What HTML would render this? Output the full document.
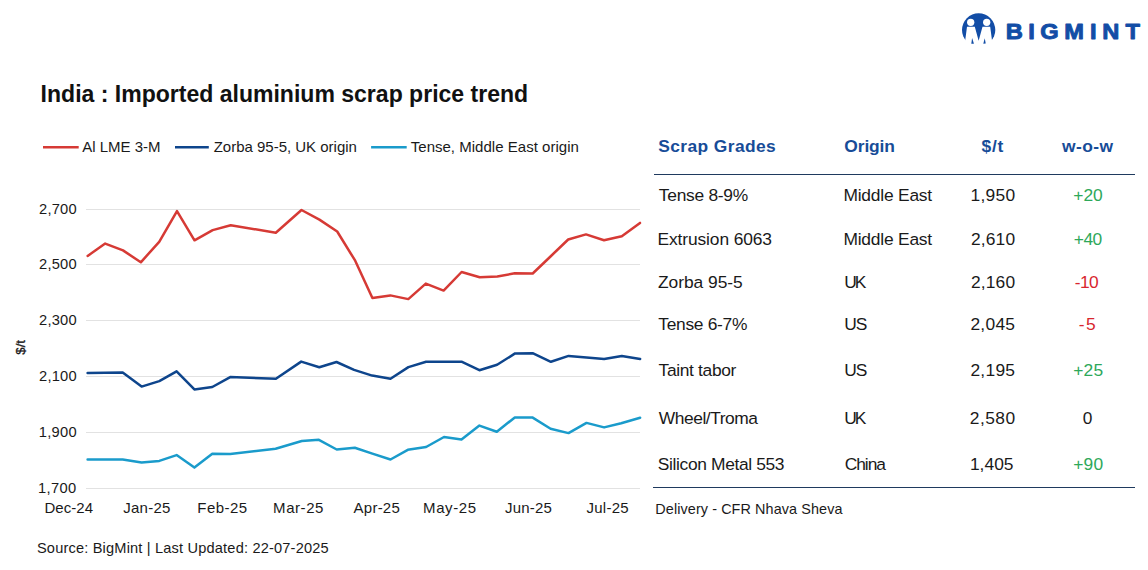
<!DOCTYPE html>
<html><head><meta charset="utf-8"><title>India : Imported aluminium scrap price trend</title>
<style>
html,body{margin:0;padding:0;background:#fff;}
body{width:1148px;height:570px;overflow:hidden;position:relative;}
svg{position:absolute;left:0;top:0;display:block;}
text{font-family:"Liberation Sans",Arial,sans-serif;}
</style></head>
<body>
<svg width="1148" height="570" viewBox="0 0 1148 570">
<g id="logo">
  <circle cx="978.65" cy="30" r="16.65" fill="#124DA6"/>
  <circle cx="970.7" cy="22.3" r="3.65" fill="#fff"/>
  <circle cx="986.7" cy="22.3" r="3.65" fill="#fff"/>
  <polygon points="967,26.8 974.8,26.8 978.65,40.7 982.5,26.8 990.2,26.8 993,48 964.2,48" fill="#fff"/>
  <polygon points="972.1,37.9 973.9,43.7 971.3,43.8" fill="#124DA6"/>
  <polygon points="984.7,38.3 985.7,43.4 983.3,43.8" fill="#124DA6"/>
  <text transform="scale(1.1,1)" x="914.32 934.79 945.77 967.55 991.01 1002.01 1023.29" y="39.25" font-size="21.5" font-weight="bold" fill="#124DA6" stroke="#124DA6" stroke-width="0.9" stroke-linejoin="round">BIGMINT</text>
</g>

<line x1="43" y1="147.3" x2="78.7" y2="147.3" stroke="#D63A35" stroke-width="2.6"/>
<line x1="175" y1="147.3" x2="208.8" y2="147.3" stroke="#0E458C" stroke-width="2.6"/>
<line x1="371.1" y1="147.3" x2="406.7" y2="147.3" stroke="#1A9BCB" stroke-width="2.6"/>
<g stroke="#E2E2E2" stroke-width="1">
  <line x1="86" y1="209.5" x2="640" y2="209.5"/>
  <line x1="86" y1="264.5" x2="640" y2="264.5"/>
  <line x1="86" y1="320.5" x2="640" y2="320.5"/>
  <line x1="86" y1="376.5" x2="640" y2="376.5"/>
  <line x1="86" y1="432.5" x2="640" y2="432.5"/>
  <line x1="86" y1="488.5" x2="640" y2="488.5"/>
</g>
<text transform="translate(24.5,347.3) rotate(-90)" font-size="13.2" fill="#1a1a1a" stroke="#1a1a1a" stroke-width="0.3" text-anchor="middle">$/t</text>
<g fill="none" stroke-width="2.5" stroke-linejoin="round" stroke-linecap="round">
<polyline stroke="#D63A35" points="87.6,255.9 105.2,243.6 123,250.4 140.8,262.3 159.2,241.8 177,211.1 194.5,240.3 212.7,230.1 230.7,225.2 275.8,232.7 301.5,210 319.4,219.6 337.2,231.5 355.2,260.7 372.4,298.1 390.3,295.4 408.3,299.1 425.8,283.6 443.6,290.6 461.6,272 479.7,277.3 497.3,276.4 514.8,273.3 532.7,273.5 550.5,256.5 568.2,239.5 586,234.4 604,240.2 621.8,236.3 640,222.9"/>
<polyline stroke="#0E458C" points="87.6,372.9 105.2,372.8 122.7,372.6 141.6,386.6 159.3,381.1 176.6,371.3 194.4,389.4 212.3,387 230.2,377.1 275.9,378.7 301.2,361.6 319.3,367.3 336.5,362 354.1,369.9 372.2,375.6 390.5,378.8 408.4,367.1 426.1,361.7 443.6,361.7 461.5,361.7 479.4,370.2 497.1,364.8 515.1,353.4 532.6,353.2 550.9,361.8 568.6,355.9 586.5,357.4 604.1,359 621.8,355.9 640.1,359"/>
<polyline stroke="#1A9BCB" points="87.6,459.6 105.2,459.6 122.7,459.4 141.6,462.4 159.3,460.9 176.6,455.1 194.4,467.6 212.3,453.7 230.2,453.9 275.6,448.7 301.8,441 318.9,439.8 336.7,449.5 354.8,447.7 372.4,453.6 390.5,459.5 407.8,449.8 426.1,447 444,437 461.5,439.6 479.4,425.6 496.8,431.7 514.8,417.4 532.3,417.4 550.6,428.7 568.5,433.1 586.5,422.9 604.1,427.4 621.2,423.2 640.1,417.7"/>
</g>
<line x1="654" y1="174.5" x2="1135" y2="174.5" stroke="#1F3A5E" stroke-width="1.2"/>
<line x1="653" y1="487.5" x2="1135" y2="487.5" stroke="#1F3A5E" stroke-width="1.2"/>

<text x="40.60" y="101.70" font-size="24.4" font-weight="bold" fill="#111111" textLength="487.53" lengthAdjust="spacingAndGlyphs">India : Imported aluminium scrap price trend</text>
<text x="82.30" y="152.00" font-size="15" fill="#1a1a1a" textLength="78.11">Al LME 3-M</text>
<text x="213.70" y="151.90" font-size="15" fill="#1a1a1a" textLength="143.21">Zorba 95-5, UK origin</text>
<text x="410.75" y="151.90" font-size="15" fill="#1a1a1a" textLength="168.09">Tense, Middle East origin</text>
<text x="39.05" y="213.80" font-size="14.7" fill="#1a1a1a" textLength="37.52">2,700</text>
<text x="39.05" y="269.00" font-size="14.7" fill="#1a1a1a" textLength="37.52">2,500</text>
<text x="39.05" y="324.90" font-size="14.7" fill="#1a1a1a" textLength="37.52">2,300</text>
<text x="39.05" y="380.80" font-size="14.7" fill="#1a1a1a" textLength="37.52">2,100</text>
<text x="38.80" y="436.90" font-size="14.7" fill="#1a1a1a" textLength="37.77">1,900</text>
<text x="38.10" y="492.90" font-size="14.7" fill="#1a1a1a" textLength="38.18">1,700</text>
<text x="44.45" y="512.70" font-size="15" fill="#1a1a1a" textLength="48.61">Dec-24</text>
<text x="123.25" y="512.70" font-size="15" fill="#1a1a1a" textLength="47.06">Jan-25</text>
<text x="197.25" y="512.70" font-size="15" fill="#1a1a1a" textLength="49.92">Feb-25</text>
<text x="273.05" y="512.70" font-size="15" fill="#1a1a1a" textLength="50.41">Mar-25</text>
<text x="353.60" y="512.70" font-size="15" fill="#1a1a1a" textLength="46.17">Apr-25</text>
<text x="423.05" y="512.70" font-size="15" fill="#1a1a1a" textLength="52.92">May-25</text>
<text x="505.05" y="512.70" font-size="15" fill="#1a1a1a" textLength="46.87">Jun-25</text>
<text x="586.45" y="512.70" font-size="15" fill="#1a1a1a" textLength="42.20">Jul-25</text>
<text x="36.95" y="552.50" font-size="14.6" fill="#1a1a1a" textLength="291.70">Source: BigMint | Last Updated: 22-07-2025</text>
<text x="658.30" y="151.60" font-size="17.4" font-weight="bold" fill="#174C98" textLength="117.42">Scrap Grades</text>
<text x="844.35" y="151.70" font-size="17.4" font-weight="bold" fill="#174C98" textLength="50.54">Origin</text>
<text x="981.55" y="151.70" font-size="17.4" font-weight="bold" fill="#174C98" textLength="21.72">$/t</text>
<text x="1062.10" y="151.80" font-size="17.4" font-weight="bold" fill="#174C98" textLength="50.84">w-o-w</text>
<text x="658.85" y="201.00" font-size="17.4" fill="#1a1a1a" textLength="89.34">Tense 8-9%</text>
<text x="657.50" y="245.00" font-size="17.4" fill="#1a1a1a" textLength="114.46">Extrusion 6063</text>
<text x="658.00" y="287.80" font-size="17.4" fill="#1a1a1a" textLength="84.71">Zorba 95-5</text>
<text x="658.25" y="329.90" font-size="17.4" fill="#1a1a1a" textLength="89.15">Tense 6-7%</text>
<text x="658.55" y="375.80" font-size="17.4" fill="#1a1a1a" textLength="77.81">Taint tabor</text>
<text x="658.80" y="423.70" font-size="17.4" fill="#1a1a1a" textLength="99.17">Wheel/Troma</text>
<text x="657.75" y="469.80" font-size="17.4" fill="#1a1a1a" textLength="126.78">Silicon Metal 553</text>
<text x="843.40" y="201.00" font-size="17.4" fill="#1a1a1a" textLength="88.80">Middle East</text>
<text x="843.40" y="245.00" font-size="17.4" fill="#1a1a1a" textLength="88.80">Middle East</text>
<text x="844.15" y="287.80" font-size="17.4" fill="#1a1a1a" textLength="22.22">UK</text>
<text x="844.15" y="329.90" font-size="17.4" fill="#1a1a1a" textLength="23.22">US</text>
<text x="844.15" y="375.80" font-size="17.4" fill="#1a1a1a" textLength="23.22">US</text>
<text x="844.15" y="423.70" font-size="17.4" fill="#1a1a1a" textLength="22.22">UK</text>
<text x="844.65" y="469.80" font-size="17.4" fill="#1a1a1a" textLength="41.38">China</text>
<text x="970.45" y="201.00" font-size="17.4" fill="#1a1a1a" textLength="44.61">1,950</text>
<text x="970.95" y="245.00" font-size="17.4" fill="#1a1a1a" textLength="44.11">2,610</text>
<text x="970.95" y="287.80" font-size="17.4" fill="#1a1a1a" textLength="44.11">2,160</text>
<text x="970.45" y="329.90" font-size="17.4" fill="#1a1a1a" textLength="44.54">2,045</text>
<text x="970.45" y="375.80" font-size="17.4" fill="#1a1a1a" textLength="44.54">2,195</text>
<text x="969.85" y="423.70" font-size="17.4" fill="#1a1a1a" textLength="45.27">2,580</text>
<text x="969.95" y="469.80" font-size="17.4" fill="#1a1a1a" textLength="43.54">1,405</text>
<text x="1073.35" y="201.00" font-size="17.4" fill="#2EA85A" textLength="29.30">+20</text>
<text x="1073.85" y="245.00" font-size="17.4" fill="#2EA85A" textLength="28.33">+40</text>
<text x="1074.65" y="287.80" font-size="17.4" fill="#D8262E" textLength="24.07">-10</text>
<text x="1078.65" y="329.90" font-size="17.4" fill="#D8262E" textLength="16.97">-5</text>
<text x="1073.25" y="375.80" font-size="17.4" fill="#2EA85A" textLength="29.83">+25</text>
<text x="1082.85" y="423.80" font-size="17.3" fill="#1a1a1a">0</text>
<text x="1073.25" y="469.80" font-size="17.4" fill="#2EA85A" textLength="29.83">+90</text>
<text x="655.35" y="513.80" font-size="14.4" fill="#1a1a1a" textLength="187.10">Delivery - CFR Nhava Sheva</text>
</svg>
</body></html>
